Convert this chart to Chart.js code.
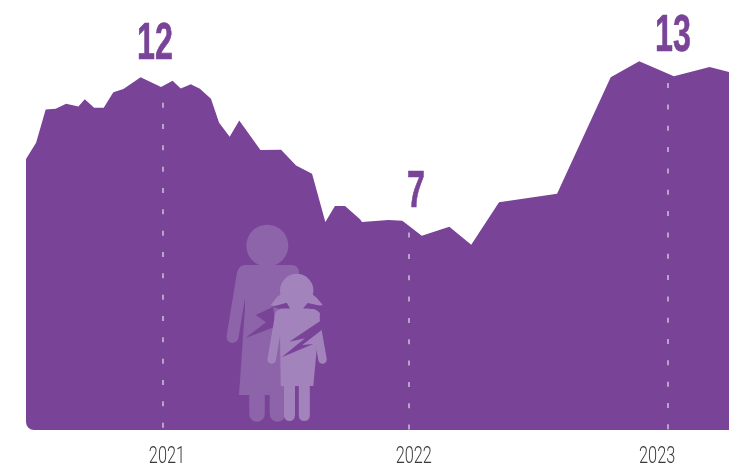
<!DOCTYPE html>
<html><head><meta charset="utf-8">
<script src="https://cdn.jsdelivr.net/npm/chart.js@4"></script>
<style>html,body{margin:0;padding:0;background:#fff;overflow:hidden}#w{width:729px;height:463px;position:relative}canvas{display:block}</style>
</head><body><div id="w"><canvas id="c" width="729" height="463"></canvas></div>
<script>
const years = [2020.443,2020.484,2020.523,2020.564,2020.606,2020.656,2020.682,2020.720,2020.759,2020.798,2020.839,2020.909,2020.992,2021.039,2021.072,2021.113,2021.150,2021.195,2021.228,2021.271,2021.310,2021.396,2021.480,2021.541,2021.606,2021.660,2021.699,2021.740,2021.801,2021.809,2021.916,2021.973,2022.052,2022.164,2022.253,2022.366,2022.602,2022.820,2022.936,2023.077,2023.222,2023.301];
const values = [9.68,10.26,11.45,11.475,11.65,11.55,11.81,11.51,11.51,12.06,12.18,12.60,12.25,12.475,12.20,12.35,12.19,11.83,10.975,10.475,11.05,10,10.01,9.45,9.15,7.43,8.0,8.0,7.525,7.43,7.5,7.475,6.94,7.26,6.62,8.13,8.44,12.60,13.17,12.63,12.96,12.79];
const tickYears = [2021,2022,2023.053];
const tickLabels = ['2021','2022','2023'];
const tickLabelYears = [2021.016,2022.0195,2023.009];
const dashTops = [11.69,7.05,12.39];
const calloutLabels = ['12','7','13'];
const calloutYears = [2020.967,2022.028,2023.073];
const calloutValues = [13.25,7.975,13.54];

const purple = '#794498';
const dashSets = tickYears.map((t,i)=>({
  type:'line', order:1, data:[{x:t,y:dashTops[i]},{x:t,y:0}],
  borderColor:'#b9a3cb', borderWidth:2, borderDash:[5,16.33], pointRadius:0, fill:false
}));

function pill(ctx,x,y0,y1,w){ctx.beginPath();ctx.lineCap='round';ctx.lineWidth=w;ctx.moveTo(x,y0);ctx.lineTo(x,y1);ctx.stroke();}
function poly(ctx,pts){ctx.beginPath();pts.forEach((p,i)=>i?ctx.lineTo(p[0],p[1]):ctx.moveTo(p[0],p[1]));ctx.closePath();ctx.fill();}
function drawFigures(ctx){
  ctx.save();
  const m='#8d64a9', k='#a383bc';
  ctx.fillStyle=m; ctx.strokeStyle=m;
  ctx.beginPath();ctx.arc(267.3,245.7,21,0,Math.PI*2);ctx.fill();
  poly(ctx,[[244,267],[290,267],[297,270],[300,285],[284,395],[239,395],[245,308],[245,300]]);
  ctx.beginPath();ctx.lineCap='round';ctx.lineJoin='round';ctx.lineWidth=12;ctx.moveTo(243,273);ctx.lineTo(232.5,337);ctx.stroke();
  ctx.beginPath();ctx.lineWidth=14;ctx.moveTo(245,272);ctx.lineTo(292,272);ctx.stroke();
  pill(ctx,257,392,414,15.5);
  pill(ctx,277.5,392,414,15.5);
  ctx.fillStyle=purple;
  poly(ctx,[[273.3,306.7],[255.7,315],[266,322.3],[245,338.3],[275,326.7]]);
  ctx.fillStyle=k; ctx.strokeStyle=k;
  ctx.beginPath();ctx.arc(296.7,290.5,16.7,0,Math.PI*2);ctx.fill();
  poly(ctx,[[270.7,305],[277,297],[287,290],[306,290],[316,297],[322.7,305],[300,311],[290,311]]);
  poly(ctx,[[290,300],[303,300],[303,312],[290,312]]);
  poly(ctx,[[280,309],[314,309],[320,313],[313.3,386],[280.7,386],[280,330]]);
  ctx.beginPath();ctx.lineWidth=8.5;ctx.moveTo(279.5,314);ctx.lineTo(271.7,359.5);ctx.stroke();
  ctx.beginPath();ctx.moveTo(314.5,314);ctx.lineTo(322.5,359.5);ctx.stroke();
  pill(ctx,289.5,384,415.5,11);
  pill(ctx,304.3,384,415.5,11);
  ctx.fillStyle=purple;
  poly(ctx,[[272,306.7],[286.7,302.7],[290,308.5],[278,308.5]]);
  poly(ctx,[[303,308.5],[307.7,303],[321.7,306],[314,308.5]]);
  poly(ctx,[[321.7,320],[289.3,341.7],[305,338.3],[281.7,357.3],[313.3,344],[302.3,345],[321.7,330]]);
  ctx.restore();
}

const extras = {
  id:'extras',
  beforeDatasetsDraw(chart){
    const {ctx,chartArea:a}=chart;
    ctx.save();ctx.beginPath();
    ctx.roundRect(a.left,a.top,a.right-a.left+2,a.bottom-a.top,[0,0,0,8]);
    ctx.clip();
  },
  afterDatasetsDraw(chart){
    const {ctx,scales:{x,y}}=chart;
    ctx.restore();
    drawFigures(ctx);
    ctx.save();
    ctx.fillStyle=purple;ctx.strokeStyle=purple;ctx.lineWidth=0.7;ctx.textAlign='center';ctx.textBaseline='alphabetic';
    ctx.font='bold 52px "Liberation Sans"';
    calloutLabels.forEach((t,i)=>{
      ctx.save();
      ctx.translate(x.getPixelForValue(calloutYears[i]),y.getPixelForValue(calloutValues[i]));
      ctx.scale(0.62,1);
      ctx.fillText(t,0,0);
      ctx.strokeText(t,0,0);
      ctx.restore();
    });
    ctx.fillStyle='#3a3a3a';
    ctx.font='300 24px Roboto';
    tickLabels.forEach((t,i)=>{
      ctx.save();
      ctx.translate(x.getPixelForValue(tickLabelYears[i]),463);
      ctx.scale(0.68,1);
      ctx.fillText(t,0,0);
      ctx.restore();
    });
    ctx.restore();
  }
};

new Chart(document.getElementById('c'),{
  type:'line',
  data:{datasets:[
    {order:2,label:'area',data:years.map((x,i)=>({x,y:values[i]})),borderWidth:0,borderColor:purple,backgroundColor:purple,fill:'origin',pointRadius:0,tension:0},
    ...dashSets
  ]},
  options:{
    responsive:false,animation:false,
    layout:{padding:{left:26,right:0,top:0,bottom:0}},
    plugins:{legend:{display:false},tooltip:{enabled:false}},
    scales:{
      x:{type:'linear',min:years[0],max:years[years.length-1],
        border:{display:false},grid:{display:false,drawTicks:false},
        afterBuildTicks(s){s.ticks=tickYears.map(v=>({value:v}));},
        afterFit(s){s.height=33;},
        ticks:{display:false}},
      y:{display:false,min:0,max:430/28}
    }
  },
  plugins:[extras]
});
</script></body></html>
